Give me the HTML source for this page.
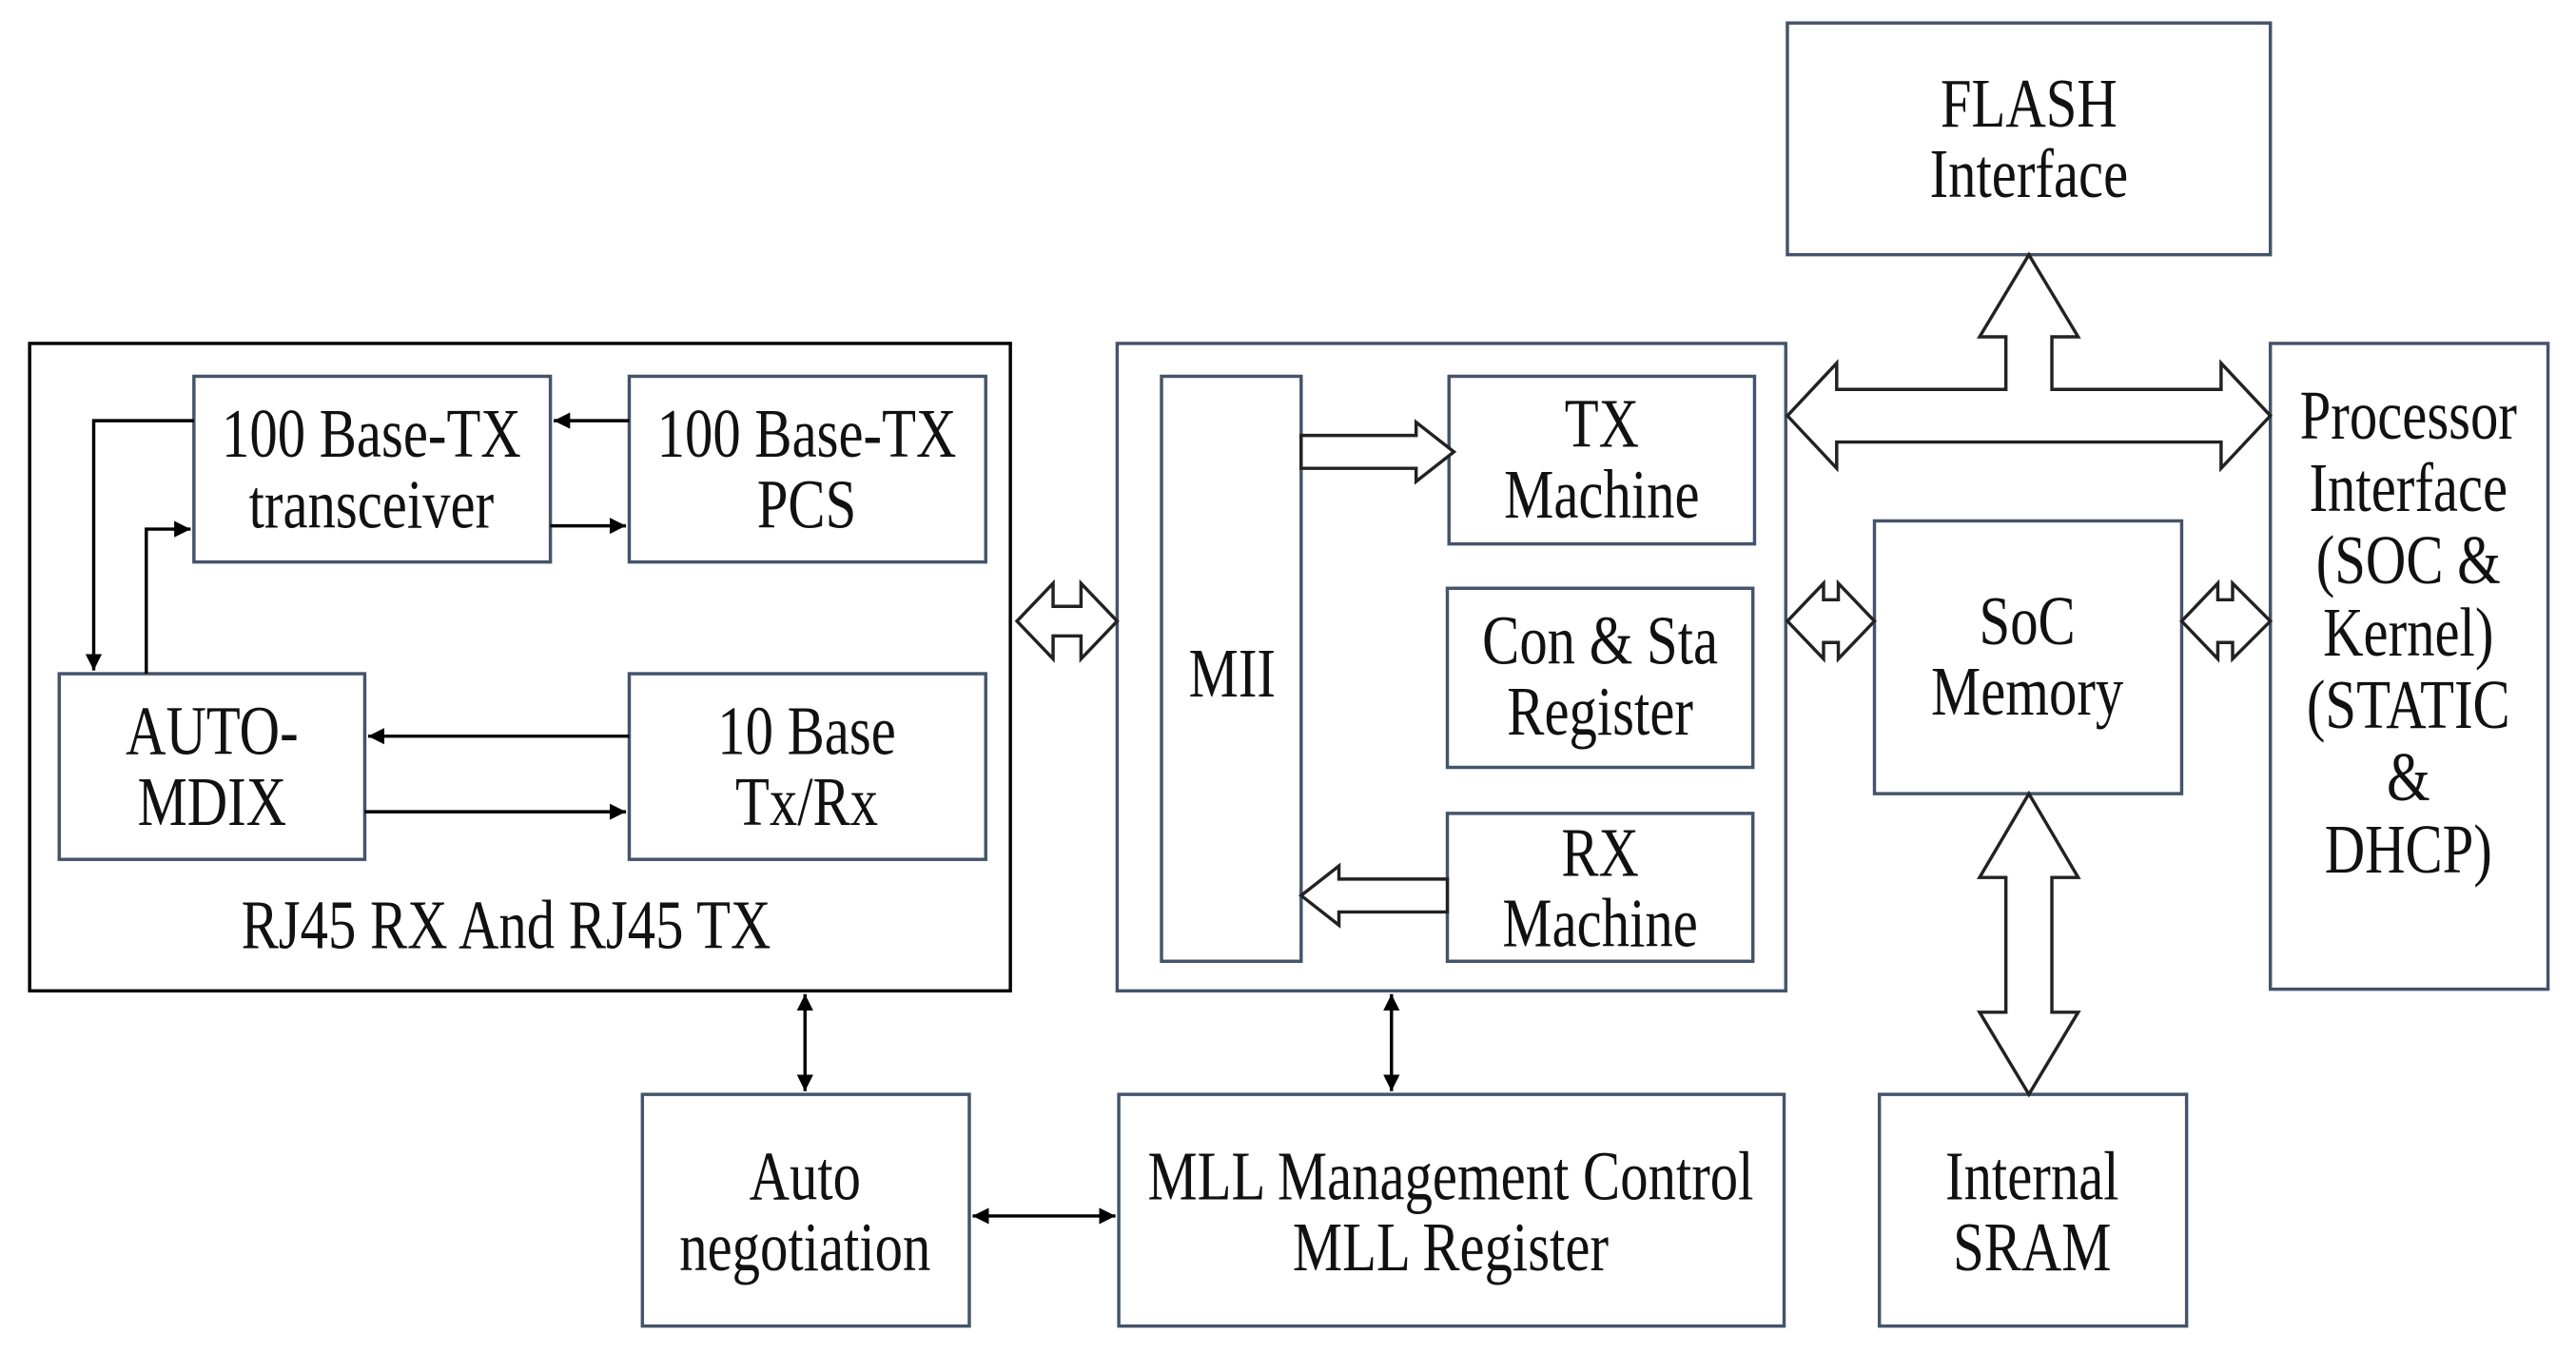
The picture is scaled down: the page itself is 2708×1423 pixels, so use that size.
<!DOCTYPE html>
<html><head><meta charset="utf-8"><style>
html,body{margin:0;padding:0;background:#fff;}
svg{display:block;}
text{font-family:"Liberation Serif",serif;font-size:34px;fill:#111;text-anchor:middle;}
</style></head><body>
<svg width="2708" height="1423" viewBox="0 0 1568 824" xmlns="http://www.w3.org/2000/svg">
<defs>
<marker id="ah" viewBox="0 0 10 10" refX="10" refY="5" markerWidth="5" markerHeight="5" orient="auto-start-reverse"><path d="M0,0 L10,5 L0,10 z" fill="#000"/></marker>
</defs>
<g fill="none" stroke-width="2">
<rect x="18" y="209" width="597" height="394" stroke="#000"/>
<g stroke="#44546a">
<rect x="118" y="229" width="217" height="113"/>
<rect x="383" y="229" width="217" height="113"/>
<rect x="36" y="410" width="186" height="113"/>
<rect x="383" y="410" width="217" height="113"/>
<rect x="680" y="209" width="407" height="394"/>
<rect x="707" y="229" width="85" height="356"/>
<rect x="882" y="229" width="186" height="102"/>
<rect x="881" y="358" width="186" height="109"/>
<rect x="881" y="495" width="186" height="90"/>
<rect x="1088" y="14" width="294" height="141"/>
<rect x="1382" y="209" width="169" height="393"/>
<rect x="1141" y="317" width="187" height="166"/>
<rect x="1144" y="666" width="187" height="141"/>
<rect x="391" y="666" width="199" height="141"/>
<rect x="681" y="666" width="405" height="141"/>
</g>
</g>
<g stroke="#000" stroke-width="2" fill="none">
<line x1="383" y1="256" x2="337" y2="256" marker-end="url(#ah)"/>
<line x1="335" y1="320" x2="381" y2="320" marker-end="url(#ah)"/>
<polyline points="118,256 57,256 57,408" marker-end="url(#ah)"/>
<polyline points="89,410 89,322 116,322" marker-end="url(#ah)"/>
<line x1="383" y1="448" x2="224" y2="448" marker-end="url(#ah)"/>
<line x1="222" y1="494" x2="381" y2="494" marker-end="url(#ah)"/>
<line x1="490" y1="605" x2="490" y2="664" marker-start="url(#ah)" marker-end="url(#ah)"/>
<line x1="847" y1="605" x2="847" y2="664" marker-start="url(#ah)" marker-end="url(#ah)"/>
<line x1="592" y1="740" x2="679" y2="740" marker-start="url(#ah)" marker-end="url(#ah)"/>
</g>
<g stroke="#222" stroke-width="2" fill="#fff" stroke-linejoin="miter">
<!-- left double arrow -->
<polygon points="619,378 641,355 641,369 658,369 658,355 680,378 658,401 658,387 641,387 641,401"/>
<!-- MII -> TX -->
<polygon points="792,265 862,265 862,257 885,275 862,293 862,285 792,285"/>
<!-- RX -> MII -->
<polygon points="881,535 815,535 815,527 792,545 815,563 815,555 881,555"/>
<!-- big T arrow -->
<polygon points="1088,253 1118,221 1118,237 1221,237 1221,205 1205,205 1235,155 1265,205 1249,205 1249,237 1352,237 1352,221 1382,253 1352,285 1352,269 1118,269 1118,285"/>
<!-- left of SoC -->
<polygon points="1088,378 1110,355 1110,365 1119,365 1119,355 1141,378 1119,401 1119,391 1110,391 1110,401"/>
<!-- right of SoC -->
<polygon points="1328,378 1350,355 1350,365 1359,365 1359,355 1382,378 1359,401 1359,391 1350,391 1350,401"/>
<!-- SoC <-> SRAM -->
<polygon points="1235,483 1265,534 1249,534 1249,616 1265,616 1235,666 1205,616 1221,616 1221,534 1205,534"/>
</g>
<g>
<g transform="translate(226,278) scale(1,1.25)"><text>100 Base-TX</text></g>
<g transform="translate(226,321) scale(1,1.25)"><text>transceiver</text></g>
<g transform="translate(491,278) scale(1,1.25)"><text>100 Base-TX</text></g>
<g transform="translate(491,321) scale(1,1.25)"><text>PCS</text></g>
<g transform="translate(129,459) scale(1,1.25)"><text>AUTO-</text></g>
<g transform="translate(129,502) scale(1,1.25)"><text>MDIX</text></g>
<g transform="translate(491,459) scale(1,1.25)"><text>10 Base</text></g>
<g transform="translate(491,502) scale(1,1.25)"><text>Tx/Rx</text></g>
<g transform="translate(308,577) scale(1,1.25)"><text>RJ45 RX And RJ45 TX</text></g>
<g transform="translate(750,424) scale(1,1.25)"><text>MII</text></g>
<g transform="translate(975,272) scale(1,1.25)"><text>TX</text></g>
<g transform="translate(975,315) scale(1,1.25)"><text>Machine</text></g>
<g transform="translate(974,404) scale(1,1.25)"><text>Con &amp; Sta</text></g>
<g transform="translate(974,447) scale(1,1.25)"><text>Register</text></g>
<g transform="translate(974,533) scale(1,1.25)"><text>RX</text></g>
<g transform="translate(974,576) scale(1,1.25)"><text>Machine</text></g>
<g transform="translate(1235,77) scale(1,1.25)"><text>FLASH</text></g>
<g transform="translate(1235,120) scale(1,1.25)"><text>Interface</text></g>
<g transform="translate(1234,392) scale(1,1.25)"><text>SoC</text></g>
<g transform="translate(1234,435) scale(1,1.25)"><text>Memory</text></g>
<g transform="translate(1466,267) scale(1,1.25)"><text>Processor</text></g>
<g transform="translate(1466,311) scale(1,1.25)"><text>Interface</text></g>
<g transform="translate(1466,355) scale(1,1.25)"><text>(SOC &amp;</text></g>
<g transform="translate(1466,399) scale(1,1.25)"><text>Kernel)</text></g>
<g transform="translate(1466,443) scale(1,1.25)"><text>(STATIC</text></g>
<g transform="translate(1466,487) scale(1,1.25)"><text>&amp;</text></g>
<g transform="translate(1466,531) scale(1,1.25)"><text>DHCP)</text></g>
<g transform="translate(490,730) scale(1,1.25)"><text>Auto</text></g>
<g transform="translate(490,773) scale(1,1.25)"><text>negotiation</text></g>
<g transform="translate(883,730) scale(1,1.25)"><text>MLL Management Control</text></g>
<g transform="translate(883,773) scale(1,1.25)"><text>MLL Register</text></g>
<g transform="translate(1237,730) scale(1,1.25)"><text>Internal</text></g>
<g transform="translate(1237,773) scale(1,1.25)"><text>SRAM</text></g>
</g>
</svg>
</body></html>
